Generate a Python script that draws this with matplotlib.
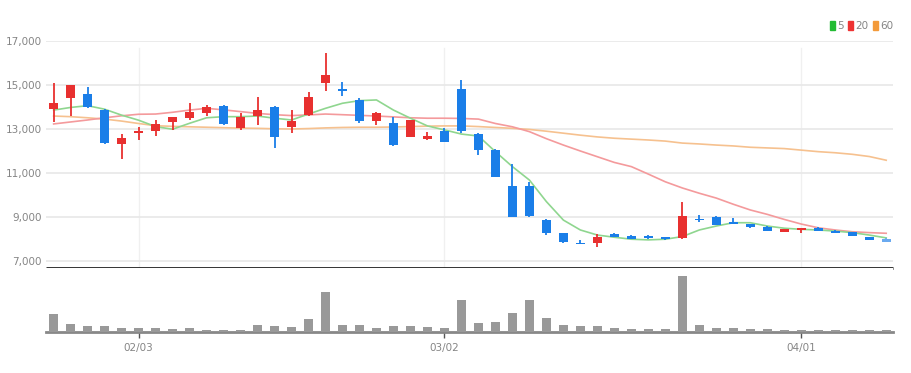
import matplotlib.pyplot as plt
from matplotlib.patches import Patch
import numpy as np

plt.rcParams['font.family'] = ['Liberation Sans Narrow', 'DejaVu Sans']

# daily candles, 2022-01-24 .. 2022-04-08
opens = [13920, 14430, 14590, 13870, 12300, 12800, 12910, 13300, 13490, 13710,
         14060, 13060, 13580, 14010, 13090, 13640, 15100, 14800, 14320, 13380,
         13290, 12650, 12530, 12910, 14820, 12760, 12045, 10420, 10420, 8860,
         8260, 7830, 7800, 8210, 8140, 8140, 8080, 8030, 8920, 9010,
         8790, 8670, 8560, 8330, 8410, 8500, 8380, 8300, 8080, 7990]
highs = [15080, 15000, 14920, 13900, 12760, 13080, 13410, 13560, 14170, 14090,
         14090, 13740, 14470, 14060, 13860, 14700, 16470, 15150, 14400, 13790,
         13560, 13420, 12850, 13030, 15230, 12800, 12080, 11410, 10600, 8920,
         8290, 7970, 8230, 8290, 8160, 8170, 8100, 9700, 9080, 9040,
         8970, 8700, 8600, 8470, 8500, 8530, 8400, 8330, 8090, 8050]
lows = [13330, 13590, 13950, 12330, 11620, 12500, 12700, 12950, 13410, 13590,
        13180, 12950, 13180, 12120, 12830, 13590, 14740, 14500, 13290, 13180,
        12250, 12640, 12520, 12420, 12800, 11820, 10800, 9000, 8990, 8200,
        7800, 7760, 7620, 8090, 8000, 8000, 7960, 7990, 8760, 8630,
        8670, 8500, 8350, 8320, 8260, 8360, 8270, 8130, 7950, 7860]
closes = [14170, 15000, 13990, 12350, 12580, 12920, 13230, 13530, 13790, 14010,
          13210, 13560, 13850, 12620, 13360, 14440, 15450, 14750, 13360, 13710,
          12270, 13410, 12700, 12420, 12910, 12060, 10830, 9010, 9040, 8260,
          7850, 7770, 8080, 8110, 8020, 8030, 7990, 9060, 8870, 8650,
          8680, 8530, 8370, 8440, 8490, 8380, 8290, 8150, 7960, 7880]
volumes = [177, 83, 63, 57, 43, 40, 40, 27, 40, 23,
           23, 23, 73, 60, 47, 133, 403, 73, 73, 40,
           57, 57, 47, 40, 317, 93, 100, 193, 317, 143,
           73, 57, 63, 43, 27, 27, 27, 557, 73, 43,
           43, 30, 27, 17, 17, 17, 17, 17, 17, 17]

ma5 = [13860, 13980, 14060, 13900, 13630, 13400, 13110, 12990, 13260, 13510,
       13560, 13560, 13590, 13490, 13410, 13680, 13940, 14170, 14290, 14320,
       13860, 13490, 13140, 12960, 12770, 12680, 11970, 11290, 10680, 9700,
       8860, 8410, 8180, 8080, 7990, 7960, 7990, 8110, 8410, 8590,
       8740, 8740, 8590, 8490, 8440, 8410, 8360, 8290, 8180, 8050]
ma20 = [13230, 13320, 13410, 13510, 13600, 13670, 13680, 13760, 13860, 13940,
        13870, 13790, 13710, 13650, 13610, 13640, 13680, 13650, 13620, 13590,
        13550, 13510, 13490, 13490, 13480, 13450, 13250, 13100, 12880, 12560,
        12270, 12000, 11740, 11480, 11290, 10950, 10600, 10320, 10080, 9860,
        9580, 9320, 9120, 8890, 8680, 8510, 8410, 8330, 8290, 8260]
ma60 = [13590, 13560, 13510, 13450, 13360, 13250, 13150, 13120, 13100, 13080,
        13060, 13040, 13030, 13010, 13000, 13020, 13050, 13070, 13080, 13080,
        13090, 13110, 13130, 13140, 13140, 13110, 13070, 13030, 12980, 12900,
        12810, 12720, 12640, 12580, 12540, 12500, 12450, 12360, 12320, 12270,
        12230, 12170, 12140, 12110, 12040, 11970, 11920, 11850, 11750, 11580]

tick_pos = [5, 23, 44]
tick_labels = ['02/03', '03/02', '04/01']
price_ticks = [7000, 9000, 11000, 13000, 15000, 17000]

UP, DOWN = '#e8302f', '#1a7ee8'
GRID = '#e9e9e9'
TXT = '#858585'

fig = plt.figure(figsize=(9.12, 3.73), dpi=100)
ax = fig.add_axes([46 / 912, 1 - 268 / 373, 847 / 912, 227 / 373])
axv = fig.add_axes([46 / 912, 1 - 332 / 373, 847 / 912, 64 / 373], sharex=ax)

x = np.arange(len(opens))
o, h, l, c = map(np.array, (opens, highs, lows, closes))
cols = np.where(c >= o, UP, DOWN)
cols[-1] = '#6aaaf0'

ax.vlines(x, l, h, colors=cols, linewidth=1.3, zorder=3)
body = np.maximum(np.abs(c - o), 40)
ax.bar(x, body, bottom=np.minimum(o, c), width=0.52, color=cols, zorder=4)

ax.plot(x, ma60, color='#f6c18f', lw=1.2, zorder=2)
ax.plot(x, ma20, color='#f49a9c', lw=1.2, zorder=2)
ax.plot(x, ma5, color='#8fd68f', lw=1.2, zorder=2)

ax.set_xlim(-0.45, 49.4)
ax.set_ylim(7000 - 7 / 22 * 1000, 17000)
ax.set_yticks(price_ticks)
ax.set_yticklabels([f'{v:,}' for v in price_ticks])
ax.tick_params(axis='y', length=0, pad=3, labelsize=7.5, labelcolor=TXT)
ax.tick_params(axis='x', length=0, labelbottom=False)
ax.grid(axis='y', color=GRID, lw=1.3, zorder=0)
for p in tick_pos:
    ax.axvline(p, ymax=0.97, color='#f0f0f0', lw=1, zorder=0)
for s in ['top', 'right', 'left']:
    ax.spines[s].set_visible(False)
ax.spines['bottom'].set_color('#222222')
ax.spines['bottom'].set_linewidth(2)
ax.spines['bottom'].set_capstyle('butt')

handles = [Patch(color='#22bb33'), Patch(color='#ee3333'), Patch(color='#f39a3a')]
leg = ax.legend(handles, ['5', '20', '60'], ncol=3, frameon=False,
                loc='lower right', bbox_to_anchor=(1.0, 1.045), fontsize=7.5,
                handlelength=0.5, handleheight=0.9, handletextpad=0.2,
                columnspacing=0.4, borderaxespad=0, borderpad=0)
for t in leg.get_texts():
    t.set_color(TXT)

axv.bar(x, volumes, width=0.52, color='#999999', zorder=3)
axv.set_ylim(0, 640)
axv.set_yticks([])
axv.set_xticks(tick_pos)
axv.set_xticklabels(tick_labels)
axv.tick_params(axis='x', length=4, width=1, color='#555555', pad=4,
                labelsize=7.5, labelcolor=TXT)
for s in ['top', 'right', 'left']:
    axv.spines[s].set_visible(False)
axv.spines['bottom'].set_color('#888888')
axv.spines['bottom'].set_linewidth(2)

plt.savefig('out.png', dpi=100)
